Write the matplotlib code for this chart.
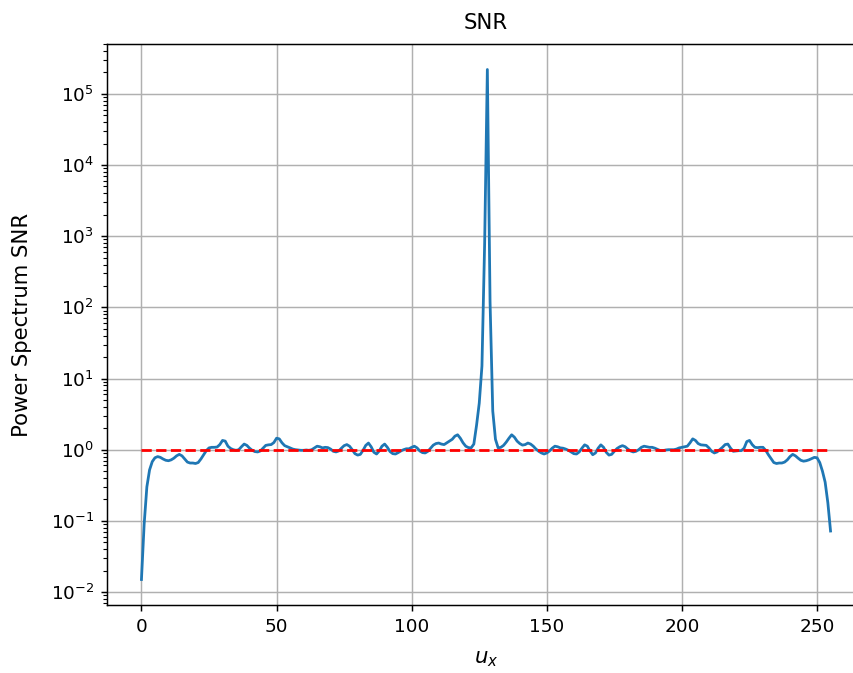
import numpy as np
import matplotlib
matplotlib.use("Agg")
import matplotlib.pyplot as plt

# Power spectrum signal-to-noise ratio per frequency bin u_x
snr = [
    0.015, 0.09, 0.30, 0.52, 0.68, 0.77, 0.80, 0.78, 0.74, 0.71,
    0.70, 0.72, 0.76, 0.82, 0.86, 0.82, 0.74, 0.67, 0.65, 0.65,
    0.64, 0.66, 0.74, 0.85, 0.97, 1.06, 1.08, 1.08, 1.09, 1.18,
    1.35, 1.32, 1.12, 1.04, 1.00, 0.98, 1.00, 1.10, 1.20, 1.15,
    1.05, 0.98, 0.94, 0.93, 0.96, 1.05, 1.15, 1.17, 1.18, 1.26,
    1.45, 1.42, 1.25, 1.14, 1.10, 1.06, 1.02, 1.00, 0.99, 0.98,
    0.98, 0.99, 0.98, 1.00, 1.06, 1.12, 1.10, 1.06, 1.08, 1.07,
    1.02, 0.95, 0.93, 0.96, 1.05, 1.14, 1.18, 1.12, 1.00, 0.88,
    0.84, 0.86, 0.98, 1.15, 1.24, 1.10, 0.92, 0.87, 0.96, 1.12,
    1.20, 1.08, 0.94, 0.88, 0.87, 0.91, 0.96, 1.00, 1.03, 1.03,
    1.08, 1.12, 1.06, 0.96, 0.91, 0.90, 0.95, 1.05, 1.16, 1.22,
    1.24, 1.20, 1.18, 1.25, 1.32, 1.40, 1.55, 1.62, 1.45, 1.25,
    1.12, 1.07, 1.06, 1.20, 2.2, 4.5, 15.0, 800.0, 220000.0, 120.0,
    3.5, 1.4, 1.06, 1.08, 1.15, 1.28, 1.45, 1.62, 1.50, 1.32,
    1.22, 1.16, 1.18, 1.24, 1.20, 1.12, 1.02, 0.95, 0.90, 0.87,
    0.90, 0.96, 1.05, 1.12, 1.10, 1.06, 1.05, 1.02, 0.98, 0.93,
    0.88, 0.87, 0.93, 1.05, 1.17, 1.12, 0.96, 0.85, 0.90, 1.05,
    1.17, 1.08, 0.92, 0.84, 0.86, 0.95, 1.04, 1.10, 1.14, 1.10,
    1.02, 0.96, 0.93, 0.95, 1.00, 1.08, 1.12, 1.10, 1.08, 1.08,
    1.05, 1.01, 0.97, 0.97, 0.99, 1.00, 1.00, 1.00, 1.02, 1.06,
    1.08, 1.10, 1.12, 1.25, 1.42, 1.35, 1.22, 1.17, 1.16, 1.15,
    1.06, 0.95, 0.90, 0.93, 1.00, 1.08, 1.18, 1.20, 1.05, 0.95,
    0.96, 0.97, 0.97, 1.05, 1.30, 1.35, 1.18, 1.08, 1.07, 1.08,
    1.08, 0.98, 0.85, 0.75, 0.66, 0.64, 0.65, 0.65, 0.67, 0.72,
    0.80, 0.86, 0.82, 0.76, 0.71, 0.69, 0.70, 0.72, 0.75, 0.78,
    0.77, 0.66, 0.50, 0.35, 0.18, 0.072,
]
u_x = np.arange(len(snr))
threshold = 1.0

dpi = 133
fig = plt.figure(figsize=(853 / dpi, 673 / dpi), dpi=dpi)
ax = fig.add_axes([107 / 853, 68 / 673, 758 / 853, 561 / 673])

ax.plot(u_x, snr)
ax.plot([u_x[0], u_x[-1]], [threshold, threshold], "r--")
ax.set_yscale("log")
ax.grid(True)
ax.set_title("SNR", fontsize=11.5, pad=8)
ax.set_xlabel("$u_x$", fontsize=11.5, labelpad=7)
ax.set_ylabel("Power Spectrum SNR", fontsize=11.5, labelpad=10)

fig.savefig("out.png", dpi=dpi)
